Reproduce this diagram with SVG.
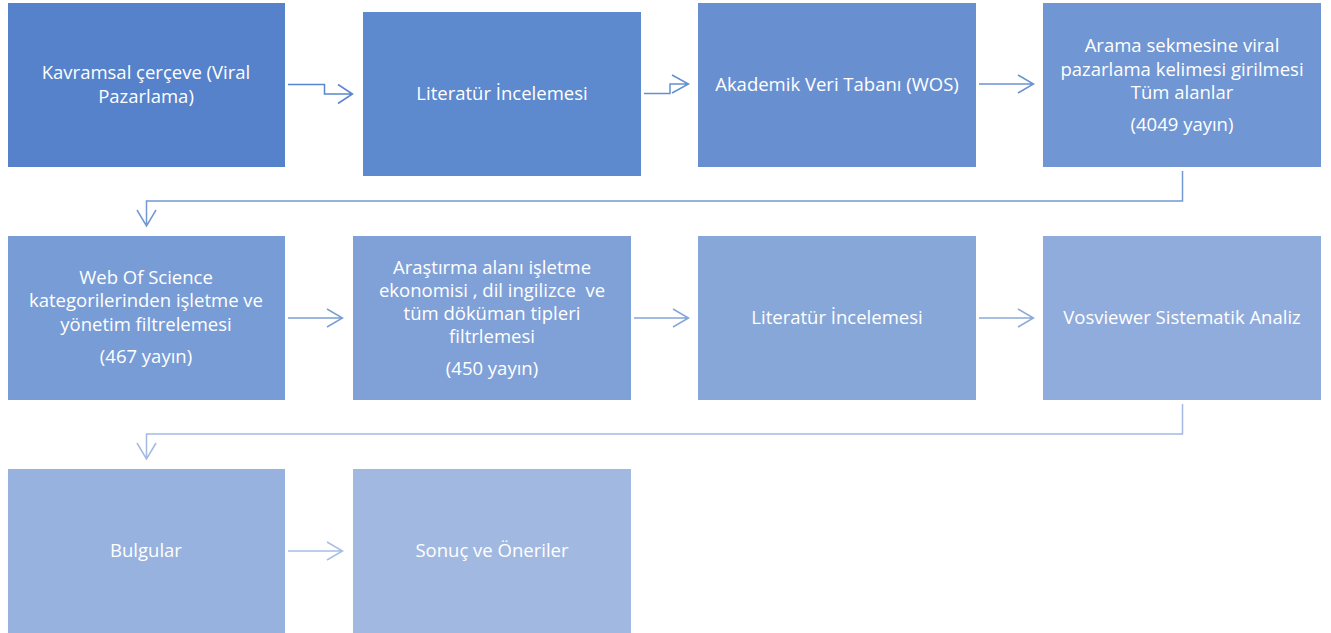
<svg xmlns="http://www.w3.org/2000/svg" width="1331" height="633" viewBox="0 0 1331 633">
<style>
.box{stroke:#ffffff;stroke-width:1}
.t{font-family:"Open Sans","Liberation Sans",sans-serif;font-size:18.5px;fill:#ffffff;text-anchor:middle;white-space:pre}
.c{fill:none;stroke-width:1.5}
</style>
<rect width="1331" height="633" fill="#ffffff"/>
<g id="n1"><rect class="box" x="7.5" y="2.5" width="278" height="165" fill="#5682CB"/>
<text class="t" x="146" y="79">Kavramsal çerçeve (Viral</text><text class="t" x="146" y="103">Pazarlama)</text></g>
<g id="n2"><rect class="box" x="362.5" y="11.5" width="279" height="165" fill="#5D89CE"/>
<text class="t" x="502" y="100">Literatür İncelemesi</text></g>
<g id="n3"><rect class="box" x="697.5" y="2.5" width="279" height="165" fill="#6890D1"/>
<text class="t" x="837" y="91">Akademik Veri Tabanı (WOS)</text></g>
<g id="n4"><rect class="box" x="1042.5" y="2.5" width="279" height="165" fill="#7096D3"/>
<text class="t" x="1182" y="52">Arama sekmesine viral</text><text class="t" x="1182" y="76">pazarlama kelimesi girilmesi</text><text class="t" x="1182" y="99">Tüm alanlar</text><text class="t" x="1182" y="131">(4049 yayın)</text></g>
<g id="n5"><rect class="box" x="7.5" y="235.5" width="278" height="165" fill="#789CD5"/>
<text class="t" x="146" y="284">Web Of Science</text><text class="t" x="146" y="307">kategorilerinden işletme ve</text><text class="t" x="146" y="331">yönetim filtrelemesi</text><text class="t" x="146" y="363">(467 yayın)</text></g>
<g id="n6"><rect class="box" x="352.5" y="235.5" width="279" height="165" fill="#7FA1D7"/>
<text class="t" x="492" y="274">Araştırma alanı işletme</text><text class="t" x="492" y="297">ekonomisi , dil ingilizce  ve</text><text class="t" x="492" y="320">tüm döküman tipleri</text><text class="t" x="492" y="343">filtrlemesi</text><text class="t" x="492" y="375">(450 yayın)</text></g>
<g id="n7"><rect class="box" x="697.5" y="235.5" width="279" height="165" fill="#87A7D9"/>
<text class="t" x="837" y="324">Literatür İncelemesi</text></g>
<g id="n8"><rect class="box" x="1042.5" y="235.5" width="279" height="165" fill="#8FACDC"/>
<text class="t" x="1182" y="324">Vosviewer Sistematik Analiz</text></g>
<g id="n9"><rect class="box" x="7.5" y="468.5" width="278" height="165" fill="#97B2DE"/>
<text class="t" x="146" y="557">Bulgular</text></g>
<g id="n10"><rect class="box" x="352.5" y="468.5" width="279" height="165" fill="#A1B9E1"/>
<text class="t" x="492" y="557">Sonuç ve Öneriler</text></g>
<g id="connectors">
<path class="c" stroke="#5A86CD" d="M288 84.5H324.5V94H352M338 84.5L352.5 94L338 103.5"/>
<path class="c" stroke="#6490D1" d="M644 93.5H670V84H688M672 75L688.5 84L672 93"/>
<path class="c" stroke="#6C93D2" d="M979 84H1033M1018 75L1033.5 84L1018 93"/>
<path class="c" stroke="#7399D4" d="M1182.5 171V201H146.5V225.5M137 210L146.5 226L156 210"/>
<path class="c" stroke="#7B9FD6" d="M288 318H342M327 309L342.5 318L327 327"/>
<path class="c" stroke="#84A5D8" d="M634 318H688M673 309L688.5 318L673 327"/>
<path class="c" stroke="#8CAADB" d="M979 318H1033M1018 309L1033.5 318L1018 327"/>
<path class="c" stroke="#A4BAE2" d="M1182.5 404V434H146.5V458.5M137 443L146.5 459L156 443"/>
<path class="c" stroke="#A8BEE4" d="M288 551H342M327 542L342.5 551L327 560"/>
</g>
</svg>
